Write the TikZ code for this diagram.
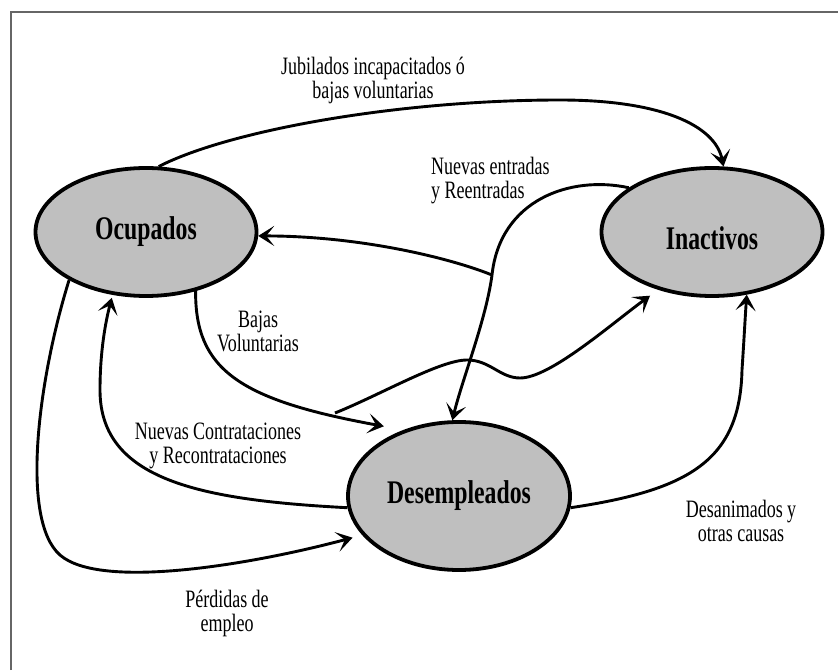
\documentclass[tikz,border=0pt]{standalone}
\usepackage{fontspec}
\setmainfont{Liberation Serif}
\newfontfamily\condserif[FakeStretch=0.72]{Liberation Serif}
\usetikzlibrary{arrows.meta,shapes.geometric}

\begin{document}
\begin{tikzpicture}[x=1pt,y=1pt,
  stock/.style={ellipse,draw,line width=3.8pt,fill=black!25,
    minimum width=221pt,minimum height=128pt,inner sep=0pt,
    font={\condserif\bfseries\fontsize{33}{33}\selectfont}},
  txt/.style={align=center,inner sep=0pt,
    font={\condserif\fontsize{25}{24}\selectfont}},
  flow/.style={line width=2.9pt,-{Stealth[length=16pt,width=20pt,inset=8pt]}},
  edgeline/.style={line width=1.8pt,black!60}]
  \useasboundingbox (0,0) rectangle (838,670);
  \draw[edgeline] (11,0) -- (11,658) -- (838,658);
  % the three states
  \node[stock]                      (OC) at (146,438) {Ocupados};
  \node[stock,text height=36pt]     (IN) at (712,438) {Inactivos};
  \node[stock,minimum height=148pt,
        minimum width=222pt]        (DE) at (459,174) {Desempleados};
  \coordinate (split) at (492,395);
  \coordinate (wave)  at (335,257);
  % labels
  \node[txt]            (JB) at (373,590)   {Jubilados incapacitados ó\\bajas voluntarias};
  \node[txt,align=left,anchor=west]
                        (NE) at (431,489.5) {Nuevas entradas\\y Reentradas};
  \node[txt]            (BV) at (258,338.5) {Bajas\\Voluntarias};
  \node[txt]            (NC) at (218,224)   {Nuevas Contrataciones\\y Recontrataciones};
  \node[txt]            (PE) at (227,57)    {Pérdidas de\\empleo};
  \node[txt]            (DA) at (741,149.5) {Desanimados y\\otras causas};
  % flows
  \draw[flow] (OC.79) .. controls (230,540) and (400,570) .. (560,570)
                      .. controls (660,570) and (715,545) .. (IN.80);
  \draw[flow] (IN.152) .. controls (570,495) and (500,470) .. (split)
                       .. controls (486,350) and (462,290) .. (DE.95);
  \draw[flow] (split) .. controls (450,412) and (360,434) .. (OC.-2);
  \draw[flow,shorten >=10pt] (wave) .. controls (380,275) and (440,310) .. (467,310)
                       .. controls (490,310) and (500,292) .. (520,292)
                       .. controls (550,292) and (610,345) .. (IN.227);
  \draw[flow,shorten >=20pt] (OC.-50) .. controls (195,300) and (240,270) .. (DE.130);
  \draw[flow,shorten >=3pt] (DE.186) .. controls (200,170) and (100,190) .. (100,280)
                       .. controls (100,320) and (106,350) .. (OC.242);
  \draw[flow,shorten >=10pt] (OC.212) .. controls (38,290) and (20,150) .. (60,115)
                       .. controls (100,80) and (250,105) .. (DE.202);
  \draw[flow] (DE.-6) .. controls (690,180) and (740,210) .. (742,300)
                      .. controls (744,330) and (745,350) .. (IN.-61);
\end{tikzpicture}
\end{document}
